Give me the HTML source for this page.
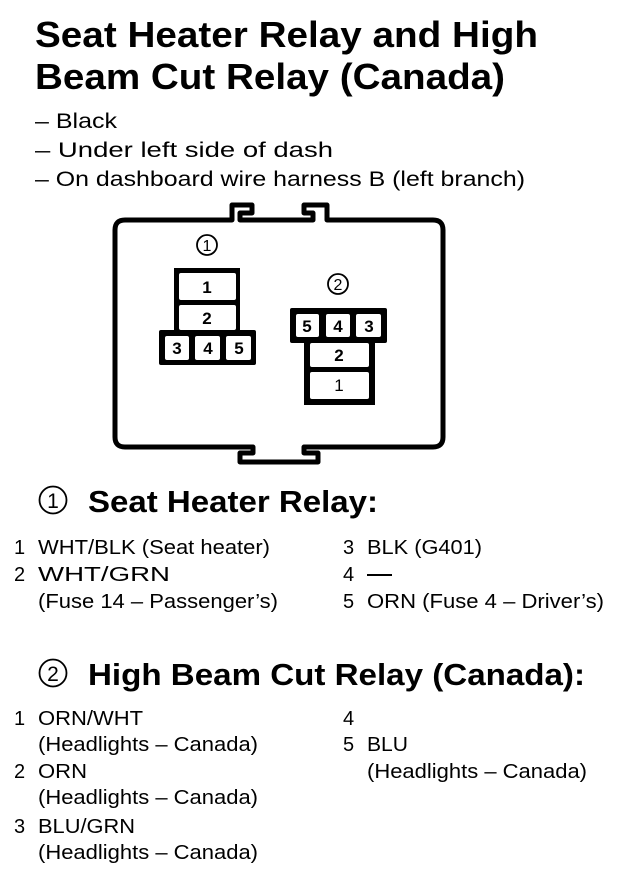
<!DOCTYPE html>
<html><head><meta charset="utf-8"><style>
html,body{margin:0;padding:0;background:#fff;width:640px;height:896px;overflow:hidden}
svg{display:block}
text{font-family:"Liberation Sans",Arial,sans-serif;fill:#000}
.b{font-weight:bold}
</style></head><body>
<svg width="640" height="896" viewBox="0 0 640 896" xmlns="http://www.w3.org/2000/svg">
<text x="35" y="47" class="b" font-size="36" textLength="503" lengthAdjust="spacingAndGlyphs">Seat Heater Relay and High</text>
<text x="35" y="89" class="b" font-size="36" textLength="470" lengthAdjust="spacingAndGlyphs">Beam Cut Relay (Canada)</text>
<text x="35" y="128" font-size="21" textLength="82" lengthAdjust="spacingAndGlyphs">– Black</text>
<text x="35" y="157" font-size="21" textLength="298" lengthAdjust="spacingAndGlyphs">– Under left side of dash</text>
<text x="35" y="186" font-size="21" textLength="490" lengthAdjust="spacingAndGlyphs">– On dashboard wire harness B (left branch)</text>

<g fill="none" stroke="#000" stroke-width="5" stroke-linejoin="round">
<path d="M125,220 L232,220 L232,205 L252,205 L252,213 L240,213 L240,220 L313,220 L313,213 L304,213 L304,205 L327,205 L327,220 L433,220 Q443,220 443,230 L443,437 Q443,447 433,447 L304,447 L304,453 L318,453 L318,462 L240,462 L240,453 L253,453 L253,447 L125,447 Q115,447 115,437 L115,230 Q115,220 125,220 Z"/>
<circle cx="207" cy="245" r="10" stroke-width="1.8"/>
<circle cx="338" cy="284" r="10" stroke-width="1.8"/>
</g>
<text x="207" y="251" font-size="16" text-anchor="middle">1</text>
<text x="338" y="290" font-size="16" text-anchor="middle">2</text>

<!-- connector 1 -->
<rect x="174" y="268" width="66" height="66" fill="#000"/>
<rect x="159" y="330" width="97" height="35" rx="2" fill="#000"/>
<rect x="179" y="273" width="57" height="27" rx="2" fill="#fff"/>
<rect x="179" y="305" width="57" height="25" rx="2" fill="#fff"/>
<rect x="165" y="336" width="24" height="24" rx="2" fill="#fff"/>
<rect x="195" y="336" width="25" height="24" rx="2" fill="#fff"/>
<rect x="226" y="336" width="25" height="24" rx="2" fill="#fff"/>
<g font-size="17" text-anchor="middle">
<text x="207" y="293" font-weight="bold">1</text>
<text x="207" y="324" font-weight="bold">2</text>
<text x="177" y="354" font-weight="bold">3</text>
<text x="208" y="354" font-weight="bold">4</text>
<text x="239" y="354" font-weight="bold">5</text>
</g>

<!-- connector 2 -->
<rect x="290" y="308" width="97" height="35" rx="2" fill="#000"/>
<rect x="304" y="340" width="71" height="65" fill="#000"/>
<rect x="296" y="314" width="23" height="23" rx="2" fill="#fff"/>
<rect x="326" y="314" width="24" height="23" rx="2" fill="#fff"/>
<rect x="356" y="314" width="25" height="23" rx="2" fill="#fff"/>
<rect x="310" y="343" width="59" height="24" rx="2" fill="#fff"/>
<rect x="310" y="372" width="59" height="27" rx="2" fill="#fff"/>
<g font-size="17" text-anchor="middle">
<text x="307" y="332" font-weight="bold">5</text>
<text x="338" y="332" font-weight="bold">4</text>
<text x="369" y="332" font-weight="bold">3</text>
<text x="339" y="361" font-weight="bold">2</text>
<text x="339" y="391">1</text>
</g>

<!-- section 1 -->
<circle cx="53" cy="500" r="13.5" fill="none" stroke="#000" stroke-width="1.8"/>
<text x="53" y="508" font-size="21" text-anchor="middle">1</text>
<text x="88" y="512" class="b" font-size="31" textLength="290" lengthAdjust="spacingAndGlyphs">Seat Heater Relay:</text>
<g font-size="20">
<text x="14" y="554">1</text><text x="38" y="554" textLength="232" lengthAdjust="spacingAndGlyphs">WHT/BLK (Seat heater)</text>
<text x="14" y="581">2</text><text x="38" y="581" textLength="132" lengthAdjust="spacingAndGlyphs">WHT/GRN</text>
<text x="38" y="608" textLength="240" lengthAdjust="spacingAndGlyphs">(Fuse 14 – Passenger’s)</text>
<text x="343" y="554">3</text><text x="367" y="554" textLength="115" lengthAdjust="spacingAndGlyphs">BLK (G401)</text>
<text x="343" y="581">4</text><rect x="367" y="574" width="25" height="2" fill="#000"/>
<text x="343" y="608">5</text><text x="367" y="608" textLength="237" lengthAdjust="spacingAndGlyphs">ORN (Fuse 4 – Driver’s)</text>
</g>

<!-- section 2 -->
<circle cx="53" cy="673" r="13.5" fill="none" stroke="#000" stroke-width="1.8"/>
<text x="53" y="681" font-size="21" text-anchor="middle">2</text>
<text x="88" y="685" class="b" font-size="31" textLength="497" lengthAdjust="spacingAndGlyphs">High Beam Cut Relay (Canada):</text>
<g font-size="20">
<text x="14" y="725">1</text><text x="38" y="725" textLength="105" lengthAdjust="spacingAndGlyphs">ORN/WHT</text>
<text x="38" y="751" textLength="220" lengthAdjust="spacingAndGlyphs">(Headlights – Canada)</text>
<text x="14" y="778">2</text><text x="38" y="778" textLength="49" lengthAdjust="spacingAndGlyphs">ORN</text>
<text x="38" y="804" textLength="220" lengthAdjust="spacingAndGlyphs">(Headlights – Canada)</text>
<text x="14" y="833">3</text><text x="38" y="833" textLength="97" lengthAdjust="spacingAndGlyphs">BLU/GRN</text>
<text x="38" y="859" textLength="220" lengthAdjust="spacingAndGlyphs">(Headlights – Canada)</text>
<text x="343" y="725">4</text>
<text x="343" y="751">5</text><text x="367" y="751" textLength="41" lengthAdjust="spacingAndGlyphs">BLU</text>
<text x="367" y="778" textLength="220" lengthAdjust="spacingAndGlyphs">(Headlights – Canada)</text>
</g>
</svg>
</body></html>
